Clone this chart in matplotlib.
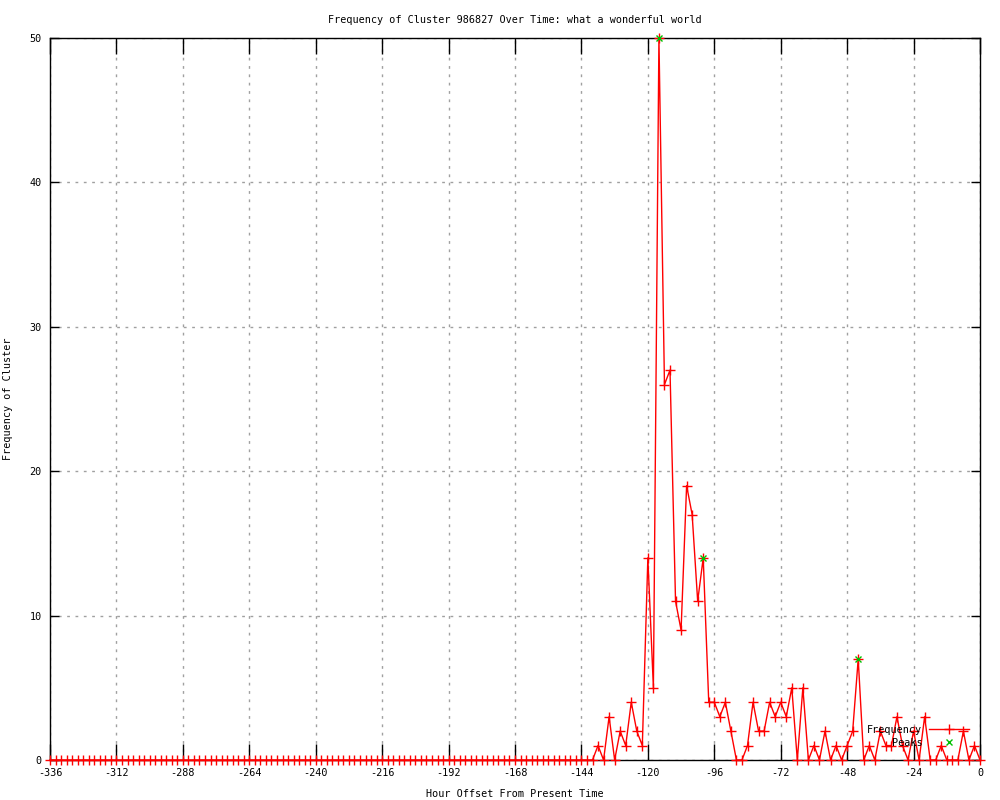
import numpy as np
import matplotlib.pyplot as plt

plt.rcParams['font.family'] = 'DejaVu Sans Mono'
plt.rcParams['axes.unicode_minus'] = False

# hours before present, one sample every 2 hours
hours = np.arange(-336, 1, 2)

# frequency per 2-hour bin (all zero before -140)
freq_tail = [0, 1, 0, 3, 0, 2, 1, 4, 2, 1,          # -140 .. -122
             14, 5, 50, 26, 27, 11, 9, 19, 17, 11,  # -120 .. -102
             14, 4, 4, 3, 4, 2, 0, 0, 1, 4,         # -100 .. -82
             2, 2, 4, 3, 4, 3, 5, 0, 5, 0,          # -80 .. -62
             1, 0, 2, 0, 1, 0, 1, 2, 7, 0,          # -60 .. -42
             1, 0, 2, 1, 1, 3, 1, 0, 2, 0,          # -40 .. -22
             3, 0, 0, 1, 0, 0, 0, 2, 0, 1,          # -20 .. -2
             0]                                     # 0
freq = np.array([0] * (len(hours) - len(freq_tail)) + freq_tail)

peak_hours = [-116, -100, -44]
peak_vals = [50, 14, 7]

xticks = np.arange(-336, 1, 24)
yticks = [0, 10, 20, 30, 40, 50]

fig = plt.figure(figsize=(10, 8), dpi=100)
ax = fig.add_axes([0.05, 0.05, 0.93, 0.9025])

ax.plot(hours, freq, color='red', linewidth=1, marker='+', markersize=6.5,
        markeredgewidth=1, label='Frequency', clip_on=False, zorder=3)
ax.plot(peak_hours, peak_vals, linestyle='none', color='#00c000', marker='x',
        markersize=5, markeredgewidth=1, label='Peaks', clip_on=False, zorder=4)

ax.set_xlim(-336, 0)
ax.set_ylim(0, 50)
ax.set_xticks(xticks)
ax.set_yticks(yticks)
ax.tick_params(direction='in', top=True, right=True, labelsize=7.3, width=1,
               colors='black', pad=6)
ax.tick_params(axis='x', length=11.5)
ax.tick_params(axis='y', length=6.5)
ax.grid(True, color='#a0a0a0', linestyle=(0, (2, 4)), linewidth=1)
ax.set_axisbelow(True)
for s in ax.spines.values():
    s.set_linewidth(1)

ax.set_title('Frequency of Cluster 986827 Over Time: what a wonderful world',
             fontsize=7.3, pad=11)
ax.set_xlabel('Hour Offset From Present Time', fontsize=7.3, labelpad=8)
ax.set_ylabel('Frequency of Cluster', fontsize=7.3)
ax.yaxis.set_label_coords(-0.04, 0.5)

ax.legend(loc='lower right', bbox_to_anchor=(0.997, 0.006), frameon=False,
          markerfirst=False, fontsize=7.3, handlelength=4.0, handletextpad=0.6,
          labelspacing=0.25, borderpad=0.3)

fig.savefig('out.png', dpi=100)
